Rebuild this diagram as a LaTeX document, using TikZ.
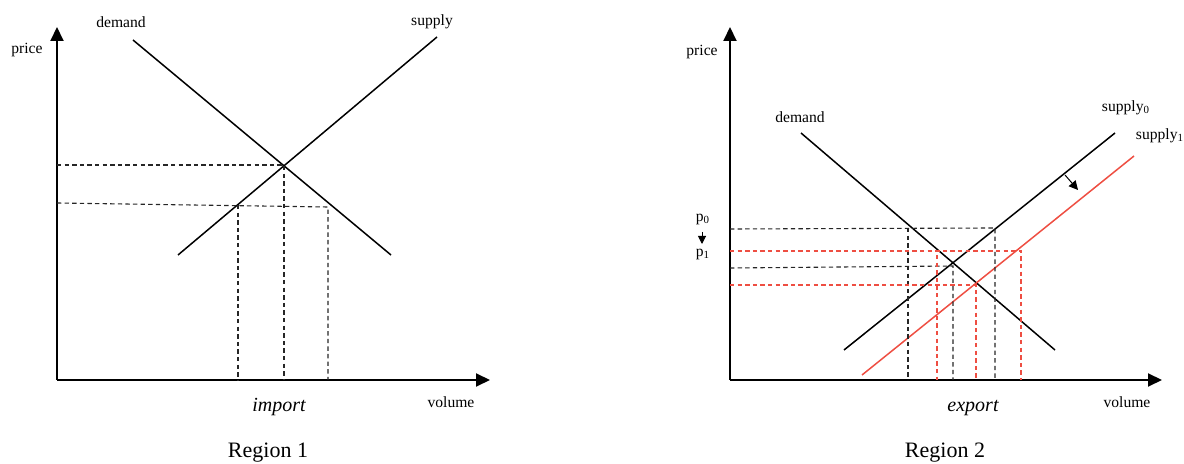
\documentclass[tikz,border=0pt]{standalone}
\usepackage{fontspec}
\setmainfont{Liberation Serif}
\usetikzlibrary{arrows.meta}
\definecolor{redline}{RGB}{238,78,66}
\begin{document}
\begin{tikzpicture}[x=0.5pt,y=-0.5pt,
  axis/.style={line width=1pt,-{Triangle[length=7pt,width=6.5pt]}},
  curve/.style={line width=0.75pt},
  redcurve/.style={line width=0.75pt,redline},
  guide/.style={line width=0.55pt,dash pattern=on 2.2pt off 1.6pt,black!85},
  redguide/.style={line width=0.55pt,dash pattern=on 2.2pt off 1.6pt,redline},
  lbl/.style={font=\fontsize{7.8}{9}\selectfont,inner sep=0pt},
  axlbl/.style={font=\fontsize{10}{12}\selectfont\itshape,inner sep=0pt},
  reg/.style={font=\fontsize{11}{13}\selectfont,inner sep=0pt}]
\useasboundingbox (0,0) rectangle (1184,464);

% ---------- Region 1 ----------
\coordinate (o1) at (57,380);
\coordinate (y1) at (57,27);
\coordinate (x1) at (490,380);
\draw[axis] (o1) -- (y1);
\draw[axis] (o1) -- (x1);
\node[lbl] (price1) at (27,50) {price};
\node[lbl] (vol1) at (451,402) {volume};
\node[axlbl] (imp) at (279,407) {import};
\node[reg] (reg1) at (268,453) {Region 1};
\node[lbl] (dem1) at (121,22) {demand};
\node[lbl] (sup1) at (432,22) {supply};

\coordinate (d1a) at (133,40);
\coordinate (d1b) at (391,255);
\coordinate (s1a) at (178,255);
\coordinate (s1b) at (437,37);
\draw[curve] (d1a) -- (d1b);
\draw[curve] (s1a) -- (s1b);

\coordinate (e1) at (284,165);
\coordinate (a1) at (238,205);
\coordinate (b1) at (328,207);
\draw[guide] (57,165) -- (e1) -- (284,380);
\draw[guide] (57,203) -- (b1) -- (328,380);
\draw[guide] (a1) -- (238,380);

% ---------- Region 2 ----------
\coordinate (o2) at (730,380);
\coordinate (y2) at (730,27);
\coordinate (x2) at (1162,380);
\draw[axis] (o2) -- (y2);
\draw[axis] (o2) -- (x2);
\node[lbl] (price2) at (702,52) {price};
\node[lbl] (vol2) at (1127,402) {volume};
\node[axlbl] (exp) at (973,408) {export};
\node[reg] (reg2) at (945,453) {Region 2};
\node[lbl] (dem2) at (800,117) {demand};
\node[lbl] (sup0) at (1126,108) {supply\textsubscript{0}};
\node[lbl] (supb) at (1160,136) {supply\textsubscript{1}};
\node[lbl] (p0) at (703,219) {p\textsubscript{0}};
\node[lbl] (p1) at (703,254) {p\textsubscript{1}};
\coordinate (pa) at (702,232);
\coordinate (pb) at (702,244);
\draw[line width=0.5pt,-{Triangle[length=4pt,width=4pt]}] (pa) -- (pb);

\coordinate (d2a) at (801,133);
\coordinate (d2b) at (1055,350);
\coordinate (s0a) at (844,350);
\coordinate (s0b) at (1115,133);
\coordinate (s2a) at (862,375);
\coordinate (s2b) at (1134,156);
\draw[curve] (d2a) -- (d2b);
\draw[curve] (s0a) -- (s0b);
\draw[redcurve] (s2a) -- (s2b);
\coordinate (sh0) at (1065,175);
\coordinate (sh1) at (1078,190);
\draw[line width=0.5pt,-{Triangle[length=4.5pt,width=4.5pt]}] (sh0) -- (sh1);

% black guides (p0, equilibrium 0)
\draw[guide] (730,229) -- (995,228) -- (995,380);
\draw[guide] (908,228) -- (908,380);
\draw[guide] (730,268) -- (953,266) -- (953,380);
% red guides (p1, equilibrium 1)
\draw[redguide] (730,251) -- (1021,251) -- (1021,380);
\draw[redguide] (937,255) -- (937,380);
\draw[redguide] (730,285) -- (976,285) -- (976,380);
\end{tikzpicture}
\end{document}
